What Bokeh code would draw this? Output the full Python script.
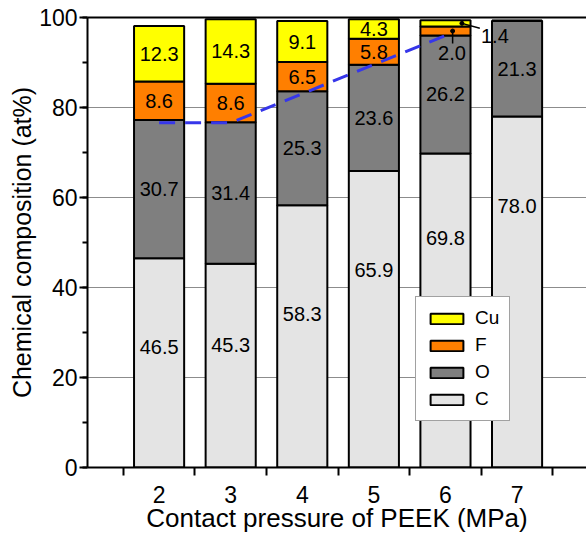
from bokeh.plotting import figure
from bokeh.models import (Range1d, FixedTicker, SingleIntervalTicker, LinearAxis,
                          Legend, LegendItem, ColumnDataSource)
from bokeh.core.properties import value
from bokeh.embed import file_html
from bokeh.resources import INLINE

# ---- data ----
pressures = [2, 3, 4, 5, 6, 7]
C = [46.5, 45.3, 58.3, 65.9, 69.8, 78.0]
O = [30.7, 31.4, 25.3, 23.6, 26.2, 21.3]
F = [8.6, 8.6, 6.5, 5.8, 2.0, 0.0]
Cu = [12.3, 14.3, 9.1, 4.3, 1.4, 0.0]
elements = ["C", "O", "F", "Cu"]
colors = ["#e4e4e4", "#7f7f7f", "#ff7f00", "#ffff00"]
c_label_y = [26.7, 27.3, 34.2, 44.0, 51.1, 58.2]
trend_x = [2, 3, 6]
trend_y = [76.6, 76.6, 96.0]
y_title = "Chemical composition (at%)"
x_title = "Contact pressure of PEEK (MPa)"

FONT = "Liberation Sans"

p = figure(width=586, height=535, x_range=Range1d(1, 7.97), y_range=Range1d(0, 100),
           output_backend="svg", toolbar_location=None,
           min_border_left=87, min_border_top=17, min_border_right=0, min_border_bottom=68)
p.outline_line_color = None
p.background_fill_color = "white"

# axes
xa = p.xaxis[0]
xa.ticker = FixedTicker(ticks=pressures, minor_ticks=[x - 0.5 for x in pressures] + [pressures[-1] + 0.5])
xa.major_tick_in = 0
xa.major_tick_out = 0
xa.minor_tick_in = 0
xa.minor_tick_out = 8
xa.major_label_standoff = 10
ya = p.yaxis[0]
ya.ticker = SingleIntervalTicker(interval=20, num_minor_ticks=2)
ya.major_tick_in = 0
ya.major_tick_out = 8
ya.minor_tick_in = 0
ya.minor_tick_out = 5
ya.major_label_standoff = 2
for ax in (xa, ya):
    ax.axis_line_width = 2
    ax.axis_line_color = "black"
    ax.major_tick_line_width = 2
    ax.minor_tick_line_width = 2
    ax.major_tick_line_color = "black"
    ax.minor_tick_line_color = "black"
    ax.major_label_text_font = FONT
    ax.major_label_text_font_size = "23px"
    ax.major_label_text_color = "black"
    ax.axis_label_text_font = FONT
    ax.axis_label_text_font_style = "normal"
    ax.axis_label_text_color = "black"
xa.axis_label = x_title
xa.axis_label_text_font_size = "26px"
xa.axis_label_standoff = -3
ya.axis_label = y_title
ya.axis_label_text_font_size = "25px"
ya.axis_label_standoff = 0

top = LinearAxis(ticker=FixedTicker(ticks=[]), major_tick_in=0, major_tick_out=0,
                 minor_tick_in=0, minor_tick_out=0, axis_line_width=2,
                 major_label_text_font_size="0px")
p.add_layout(top, "above")

p.xgrid.visible = False
p.ygrid.grid_line_color = "#8c8c8c"
p.ygrid.grid_line_width = 1

# bars
src = ColumnDataSource(dict(x=pressures, C=C, O=O, F=F, Cu=Cu))
rs = p.vbar_stack(elements, x="x", width=0.7, source=src, fill_color=colors,
                  line_color="black", line_width=2)

# trend line
p.line(trend_x, trend_y, line_color="#3636ea", line_width=3, line_dash="16 10")

# labels
lx, ly, lt = [], [], []
series = [C, O, F, Cu]
callouts = []
for i, x in enumerate(pressures):
    base = 0.0
    for k, vals in enumerate(series):
        v = vals[i]
        center = base + v / 2
        if v > 0:
            if k == 0:
                lx.append(x); ly.append(c_label_y[i]); lt.append(f"{v:.1f}")
            elif v >= 3:
                lx.append(x); ly.append(center); lt.append(f"{v:.1f}")
            else:
                callouts.append((k, x, center, v))
        base += v

dot_x, dot_y, seg_x0, seg_y0, seg_x1, seg_y1 = [], [], [], [], [], []
for k, x, center, v in callouts:
    if k == 2:   # F
        dx, ex, ey, tx, ty = 0.10, 0.10, -2.8, 0.09, -4.8
    else:        # Cu
        dx, ex, ey, tx, ty = 0.23, 0.48, -1.1, 0.69, -2.7
    dot_x.append(x + dx); dot_y.append(center)
    seg_x0.append(x + dx); seg_y0.append(center)
    seg_x1.append(x + ex); seg_y1.append(center + ey)
    lx.append(x + tx); ly.append(center + ty); lt.append(f"{v:.1f}")

p.segment(seg_x0, seg_y0, seg_x1, seg_y1, line_color="black", line_width=1.5)
p.scatter(dot_x, dot_y, size=4, color="black")
p.text(lx, ly, text=lt, text_font=value(FONT), text_font_size="20px",
       text_align="center", text_baseline="middle", text_color="black")

# legend
legend = Legend(items=[LegendItem(label=elements[k], renderers=[rs[k]]) for k in (3, 2, 1, 0)],
                location=(328, 46), margin=0, padding=10, spacing=5,
                glyph_width=41, glyph_height=13, label_standoff=8, label_height=20,
                label_text_font=FONT, label_text_font_size="19px", label_text_color="black",
                border_line_color="#444444", border_line_width=1.5,
                background_fill_color="white", background_fill_alpha=1)
p.add_layout(legend)

open("out.html", "w").write(file_html(p, INLINE))
